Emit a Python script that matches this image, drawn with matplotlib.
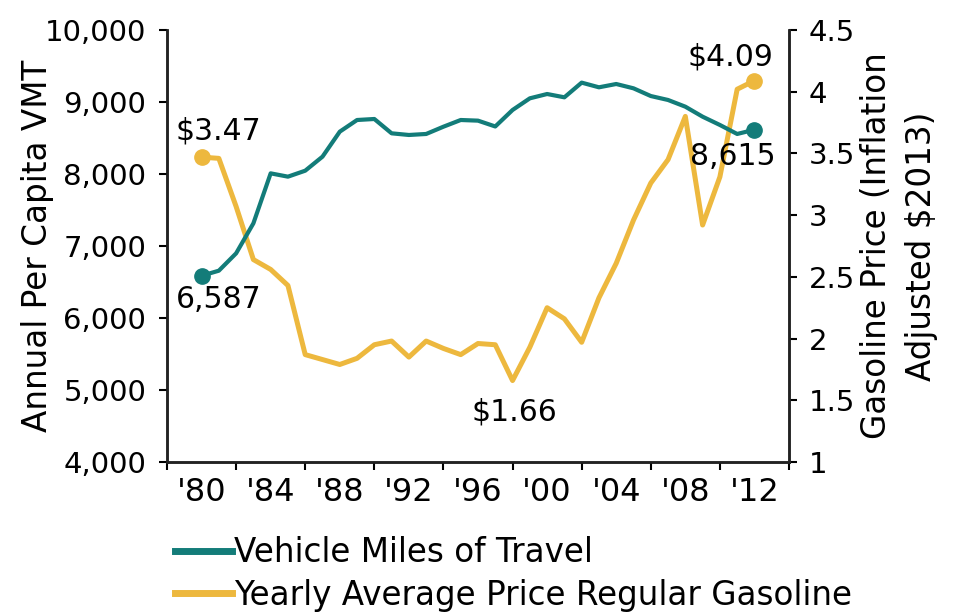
import numpy as np
import matplotlib
matplotlib.use("Agg")
import matplotlib.pyplot as plt
from matplotlib.ticker import FuncFormatter, FixedLocator

plt.rcParams['font.family'] = ['DejaVu Sans']

# data
years = list(range(1980, 2013))
vmt = [6587, 6657, 6898, 7315, 8009, 7963, 8046, 8241, 8588, 8750,
       8764, 8565, 8542, 8556, 8657, 8750, 8741, 8660, 8889, 9051,
       9111, 9065, 9269, 9204, 9250, 9190, 9083, 9028, 8935, 8796,
       8681, 8556, 8615]
gas = [3.47, 3.46, 3.07, 2.64, 2.56, 2.43, 1.87, 1.83, 1.79, 1.84,
       1.95, 1.98, 1.85, 1.98, 1.92, 1.87, 1.96, 1.95, 1.66, 1.93,
       2.25, 2.16, 1.97, 2.33, 2.61, 2.96, 3.26, 3.45, 3.80, 2.92,
       3.31, 4.02, 4.09]
tick_labels = ["'80", "'84", "'88", "'92", "'96", "'00", "'04", "'08", "'12"]

teal = '#137C79'
gold = '#EDB83E'

fig = plt.figure(figsize=(9.59, 6.13), dpi=100)
ax = fig.add_axes([167 / 959, 1 - 462 / 613, 622 / 959, 432 / 613])
ax2 = ax.twinx()

ln1, = ax.plot(years, vmt, color=teal, lw=3, solid_joinstyle='round', zorder=3)
ax.plot([years[0], years[-1]], [vmt[0], vmt[-1]], 'o', color=teal, ms=11, zorder=4)
ln2, = ax2.plot(years, gas, color=gold, lw=3.6, solid_joinstyle='round')
ax2.plot([years[0], years[-1]], [gas[0], gas[-1]], 'o', color=gold, ms=11)

ax.set_zorder(ax2.get_zorder() + 1)
ax.patch.set_visible(False)

ax.set_xlim(1978, 2014)
ax.set_ylim(4000, 10000)
ax2.set_ylim(1, 4.5)

ax.xaxis.set_major_locator(FixedLocator(np.arange(1978, 2015, 4)))
ax.xaxis.set_minor_locator(FixedLocator(np.arange(1980, 2013, 4)))
ax.set_xticklabels([], minor=False)
ax.set_xticklabels(tick_labels, minor=True, fontsize=23)
ax.tick_params(axis='x', which='major', length=6, width=1.5, direction='out')
ax.tick_params(axis='x', which='minor', length=0, pad=11)

ax.set_yticks(np.arange(4000, 10001, 1000))
ax.yaxis.set_major_formatter(FuncFormatter(lambda v, p: f'{int(v):,}'))
ax.tick_params(axis='y', length=6, width=1.5, labelsize=21, pad=9)
ax2.set_yticks([1, 1.5, 2, 2.5, 3, 3.5, 4, 4.5])
ax2.set_yticklabels(['1', '1.5', '2', '2.5', '3', '3.5', '4', '4.5'])
ax2.tick_params(axis='y', length=6, width=1.5, labelsize=21, pad=8)

for a in (ax, ax2):
    a.spines['top'].set_visible(False)
    for s in ('left', 'right', 'bottom'):
        a.spines[s].set_linewidth(1.8)
        a.spines[s].set_color('#222222')

ax.set_ylabel('Annual Per Capita VMT', fontsize=23.5)
ax.yaxis.set_label_coords((54 - 167) / 622, 0.5)
ax2.set_ylabel('Gasoline Price (Inflation\nAdjusted $2013)', fontsize=23.5,
               linespacing=1.45)
ax2.yaxis.set_label_coords((860 - 167) / 622, 0.5)

# point labels
afs = 21.5
ax.text(1978.5, vmt[0] - 448, f'{vmt[0]:,}', fontsize=afs, ha='left', va='baseline')
ax.text(2013.2, vmt[-1] - 490, f'{vmt[-1]:,}', fontsize=afs, ha='right', va='baseline')
ax2.text(1978.5, gas[0] + 0.14, f'${gas[0]:.2f}', fontsize=afs, ha='left', va='baseline')
ax2.text(2013.1, gas[-1] + 0.126, f'${gas[-1]:.2f}', fontsize=afs, ha='right', va='baseline')
i_min = int(np.argmin(gas))
ax2.text(years[i_min] + 0.1, gas[i_min] - 0.32, f'${gas[i_min]:.2f}', fontsize=afs,
         ha='center', va='baseline')

leg = fig.legend([ln1, ln2], ['Vehicle Miles of Travel', 'Yearly Average Price Regular Gasoline'],
                 loc='upper left', bbox_to_anchor=(175 / 959, 1 - 536 / 613), frameon=False,
                 fontsize=23.5, handlelength=1.75, handletextpad=0.05, labelspacing=0.3,
                 borderaxespad=0, borderpad=0)
for h in leg.legend_handles:
    h.set_linewidth(5)

fig.savefig('out.png', dpi=100)
